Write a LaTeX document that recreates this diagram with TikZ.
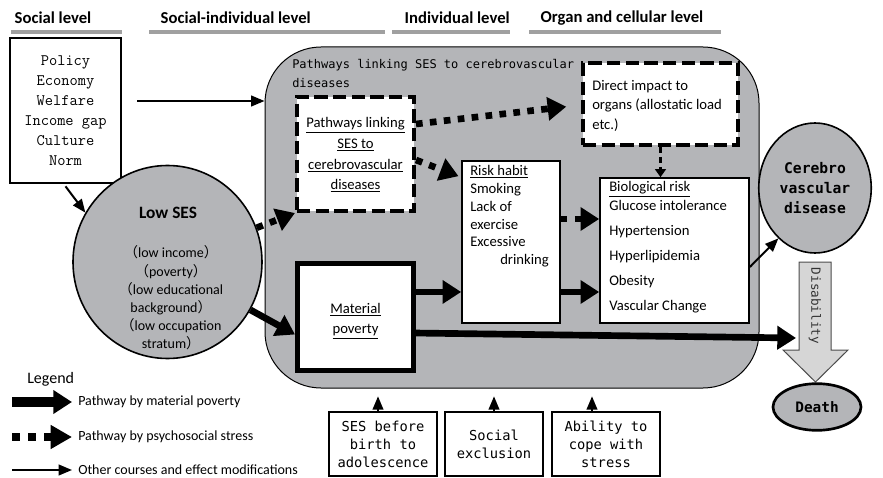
\documentclass[tikz,border=0pt]{standalone}
\usepackage{fontspec}
\setmainfont{Carlito}
\newfontfamily\gothic{DejaVu Sans Mono}
\newfontfamily\cjk{Noto Sans CJK JP}
\usetikzlibrary{arrows.meta,shapes.geometric}
\definecolor{regiongray}{RGB}{180,181,184}
\definecolor{bargray}{RGB}{160,160,160}
\definecolor{disabgray}{RGB}{214,214,214}
\newcommand{\fwl}{{\cjk （}}
\newcommand{\fwr}{{\cjk ）}}

\tikzset{
  levelbar/.style={line width=3pt,bargray},
  leveltext/.style={anchor=west,font=\fontsize{12.5}{14}\selectfont\bfseries},
  fatarrow/.style={line width=5pt,-{Triangle[length=14pt,width=17pt]}},
  stressarrow/.style={line width=5pt,dash pattern=on 5pt off 5.5pt,-{Triangle[length=14pt,width=17pt]}},
  thinarrow/.style={line width=1.5pt,-{Triangle[length=10pt,width=8pt]}},
  plainbox/.style={draw,fill=white,line width=1pt},
  stressbox/.style={draw,fill=white,line width=3pt,dash pattern=on 10pt off 4pt},
  bodytext/.style={font=\fontsize{11}{15.5}\selectfont},
  monotext/.style={font=\gothic\fontsize{10.3}{13.5}\selectfont},
}

\begin{document}
\begin{tikzpicture}[x=0.75pt,y=-0.75pt]
\useasboundingbox (0,0) rectangle (883,478);

% levels
\node[leveltext] (lsocial) at (10,18) {Social level};
\node[leveltext] (lsocind) at (156,18) {Social-individual level};
\node[leveltext] (lindiv) at (400,18) {Individual level};
\node[leveltext] (lorgan) at (536,18) {Organ and cellular level};
\draw[levelbar] (11,32) -- (122,32);
\draw[levelbar] (149,32) -- (385,32);
\draw[levelbar] (392,32) -- (510,32);
\draw[levelbar] (529,32) -- (721,32);

% social factors
\node[plainbox,minimum width=83.25pt,minimum height=108.75pt,align=center,
  font=\ttfamily\fontsize{12}{15}\selectfont] (policy) at (65.5,110.5)
  {Policy\\Economy\\Welfare\\Income gap\\Culture\\Norm};

\node[ellipse,draw,fill=regiongray,line width=1.2pt,minimum width=141.75pt,
  minimum height=144.75pt] (ses) at (167.5,262) {};
\node[font=\fontsize{13}{15}\selectfont\bfseries] (sestitle) at (168,213) {Low SES};
\node[align=center,font=\fontsize{10.5}{13.6}\selectfont] (seslist) at (171,298)
  {\fwl low income\fwr\\\fwl poverty\fwr\\\fwl low educational\\background\fwr\\
   \fwl low occupation\\stratum\fwr};

% pathway region
\node[draw,fill=regiongray,line width=0.75pt,rounded corners=42pt,
  minimum width=370.5pt,minimum height=255.75pt] (region) at (512,217.5) {};
\node[anchor=north west,inner sep=0pt,align=left,font=\gothic\fontsize{9}{14}\selectfont]
  (regiontitle) at (292,59) {Pathways linking SES to cerebrovascular\\diseases};

\node[stressbox,minimum width=87.75pt,minimum height=85.5pt] (stressbox) at (355.5,154) {};
\node[bodytext,align=center] (stresstext) at (355.5,155)
  {\underline{Pathways linking}\\\underline{SES to}\\\underline{cerebrovascular}\\\underline{diseases}};

\node[plainbox,line width=3.75pt,minimum width=87pt,minimum height=80.25pt] (material) at (355.5,316.5) {};
\node[bodytext,align=center] (materialtext) at (355.5,321) {\underline{Material}\\\underline{poverty}};

\node[stressbox,minimum width=116.25pt,minimum height=61.5pt] (direct) at (660.5,104) {};
\node[anchor=north west,inner sep=0pt,align=left,font=\fontsize{11}{14.6}\selectfont]
  (directtext) at (592,80) {Direct impact to\\organs (allostatic load\\etc.)};

\node[plainbox,line width=1.2pt,minimum width=73.5pt,minimum height=121.5pt] (riskhabit) at (511,242) {};
\node[anchor=north west,inner sep=0pt,align=left,font=\fontsize{11}{13.4}\selectfont]
  (risktext) at (470,165) {\underline{Risk habit}\\Smoking\\Lack of\\exercise\\Excessive\\
  \hspace*{22.5pt}drinking};

\node[plainbox,line width=1.2pt,minimum width=111.75pt,minimum height=108.75pt] (bio) at (674.5,250.5) {};
\node[anchor=north west,inner sep=0pt,align=left,font=\fontsize{11}{14.25}\selectfont]
  (biotext) at (609,181) {\underline{Biological risk}\\Glucose intolerance\\[4.5pt]Hypertension\\[4.5pt]
  Hyperlipidemia\\[4.5pt]Obesity\\[4.5pt]Vascular Change};

% outcome
\node[ellipse,draw,fill=regiongray,line width=1.2pt,minimum width=78.75pt,minimum height=97.5pt,
  align=center,font=\gothic\bfseries\fontsize{11}{15}\selectfont] (cerebro) at (815,188)
  {Cerebro\\vascular\\disease};
\draw[fill=disabgray,draw=black!70,line width=0.75pt]
  (799,262) -- (831,262) -- (831,350) -- (848,350) -- (815.5,382) -- (783,350) -- (799,350) -- cycle;
\node[rotate=-90,font=\gothic\fontsize{9.5}{11}\selectfont,text=black!80] (disabtext) at (815,306) {Disability};
\node[ellipse,draw,fill=regiongray,line width=2pt,minimum width=66pt,minimum height=35pt,
  font=\gothic\bfseries\fontsize{10.8}{12}\selectfont] (death) at (817,407) {Death};

% modifiers
\node[plainbox,minimum width=81pt,minimum height=48pt,align=center,monotext] (sesbirth) at (383,444)
  {SES before\\birth to\\adolescence};
\node[plainbox,minimum width=73.5pt,minimum height=48pt,align=center,monotext] (exclusion) at (494,444)
  {Social\\exclusion};
\node[plainbox,minimum width=81pt,minimum height=48pt,align=center,monotext] (coping) at (606,444)
  {Ability to\\cope with\\stress};

% connectors
\coordinate (policyout) at (137,101);
\draw[thinarrow] (policyout) -- (policyout -| region.west);
\draw[thinarrow] ([yshift=-2pt]policy.south) -- (ses.149);
\draw[stressarrow] (ses.21) -- (stressbox.south west);
\draw[fatarrow] (ses.-30) -- ([yshift=-13.5pt]material.west);
\draw[stressarrow] ([yshift=22.5pt]stressbox.east) -- ([xshift=-11pt,yshift=-2pt]direct.west);
\draw[stressarrow] ([yshift=-4.5pt]stressbox.east) -- ([xshift=-2pt,yshift=-12pt]riskhabit.north west);
\draw[line width=2.2pt,dash pattern=on 4.5pt off 3pt,-{Triangle[length=6pt,width=8pt]}]
  (direct.south) -- (direct.south |- bio.north);
\draw[stressarrow] ([yshift=17.25pt]riskhabit.east) -- ([yshift=17.25pt]riskhabit.east -| bio.west);
\draw[fatarrow] ([yshift=-37.5pt]riskhabit.east) -- ([yshift=-37.5pt]riskhabit.east -| bio.west);
\draw[fatarrow] ([yshift=18.4pt]material.east) -- ([yshift=18.4pt]material.east -| riskhabit.west);
\coordinate (disabin) at (796,338);
\draw[fatarrow] ([yshift=-12.4pt]material.east) -- (disabin);
\draw[thinarrow] ([yshift=-12.4pt]bio.east) -- (cerebro.234);
\draw[thinarrow] ([xshift=-3.75pt]sesbirth.north) -- ++(0,-15);
\draw[thinarrow] (exclusion.north) -- ++(0,-15);
\draw[thinarrow] ([xshift=-10.5pt]coping.north) -- ++(0,-15);

% legend
\node[anchor=west,inner sep=0pt,font=\fontsize{12}{14}\selectfont] (legend) at (27,379) {Legend};
\node[anchor=west,inner sep=1.5pt,font=\fontsize{10.5}{12}\selectfont] (lgmaterial) at (76,402) {Pathway by material poverty};
\node[anchor=west,inner sep=1.5pt,font=\fontsize{10.5}{12}\selectfont] (lgstress) at (76,437) {Pathway by psychosocial stress};
\node[anchor=west,inner sep=1.5pt,font=\fontsize{10.5}{12}\selectfont] (lgother) at (76,470) {Other courses and effect modifications};
\coordinate (lga) at (12,402);
\coordinate (lgb) at (12,437);
\coordinate (lgc) at (12,470);
\draw[fatarrow,line width=7pt,-{Triangle[length=14pt,width=17pt]}] (lga) -- ([xshift=-3pt]lgmaterial.west);
\draw[stressarrow,line width=6pt,dash pattern=on 6pt off 6pt,-{Triangle[length=16pt,width=17pt]}] (lgb) -- ([xshift=-3pt]lgstress.west);
\draw[thinarrow] (lgc) -- ([xshift=-3pt]lgother.west);
\end{tikzpicture}
\end{document}
